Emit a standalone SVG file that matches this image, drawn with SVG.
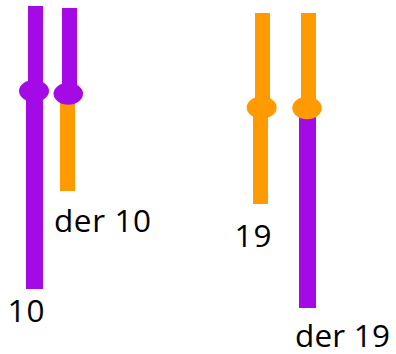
<svg xmlns="http://www.w3.org/2000/svg" width="396" height="354" viewBox="0 0 396 354">
  <style>
    .p { fill: #A30AE6; }
    .o { fill: #FF9A00; }
    .lbl { font-family: "Open Sans", "Liberation Sans", sans-serif; font-size: 31.5px; fill: #000; }
  </style>
  <rect width="396" height="354" fill="#fff"/>

  <!-- chromosome 10 -->
  <g id="chr10">
    <rect class="p" x="26" y="91" width="17" height="198"/>
    <rect class="p" x="28" y="6" width="15" height="86"/>
    <ellipse class="p" cx="34" cy="91" rx="15" ry="11"/>
    <text class="lbl" x="7.5" y="322" textLength="37">10</text>
  </g>

  <!-- derivative chromosome 10 -->
  <g id="der10">
    <rect class="o" x="60" y="93" width="15" height="98"/>
    <rect class="p" x="62" y="8" width="15" height="86"/>
    <ellipse class="p" cx="68.3" cy="93.7" rx="14.7" ry="11"/>
    <text class="lbl" x="54" y="232" textLength="97">der 10</text>
  </g>

  <!-- chromosome 19 -->
  <g id="chr19">
    <rect class="o" x="253" y="107" width="15" height="97"/>
    <rect class="o" x="255" y="13" width="15" height="95"/>
    <ellipse class="o" cx="261.7" cy="107.5" rx="15" ry="11"/>
    <text class="lbl" x="234.5" y="247" textLength="37">19</text>
  </g>

  <!-- derivative chromosome 19 -->
  <g id="der19">
    <rect class="p" x="299" y="108" width="17" height="200"/>
    <rect class="o" x="301" y="13" width="15" height="96"/>
    <ellipse class="o" cx="307" cy="108" rx="14.7" ry="11.3"/>
    <text class="lbl" x="295" y="346.5" textLength="95">der 19</text>
  </g>

  <g id="connectors"/>
</svg>
